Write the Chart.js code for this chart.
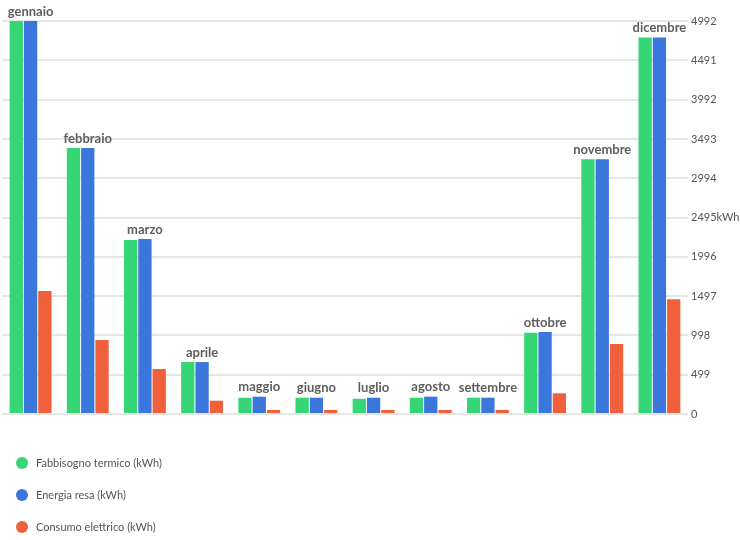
<!DOCTYPE html>
<html>
<head>
<meta charset="utf-8">
<script src="https://cdn.jsdelivr.net/npm/chart.js@4.4.1/dist/chart.umd.min.js"></script>
<style>
  html, body { margin: 0; padding: 0; background: #fff; }
  #wrap { width: 740px; height: 540px; position: relative; }
</style>
</head>
<body>
<div id="wrap"><canvas id="chart"></canvas></div>
<script>
// Months and monthly values (kWh)
const months = ['gennaio', 'febbraio', 'marzo', 'aprile', 'maggio', 'giugno', 'luglio', 'agosto', 'settembre', 'ottobre', 'novembre', 'dicembre'];
const fabbisogno = [4992, 3379, 2210, 660, 207, 207, 194, 207, 207, 1033, 3235, 4784];
const energiaResa = [4992, 3379, 2223, 660, 220, 207, 207, 220, 207, 1041, 3235, 4784];
const consumo = [1562, 940, 572, 169, 51, 51, 51, 51, 51, 263, 889, 1457];
const seriesNames = ['Fabbisogno termico (kWh)', 'Energia resa (kWh)', 'Consumo elettrico (kWh)'];
const yTicks = [0, 499, 998, 1497, 1996, 2495, 2994, 3493, 3992, 4491, 4992];

const colors = ['#36d677', '#3a76dc', '#f0603a'];

// month names above each group of bars
const groupLabels = {
  id: 'groupLabels',
  afterDatasetsDraw(chart) {
    const ctx = chart.ctx;
    const x = chart.scales.x, y = chart.scales.y;
    ctx.save();
    ctx.font = 'bold 13px Lato';
    ctx.fillStyle = '#5e5e5e';
    ctx.textAlign = 'center';
    ctx.textBaseline = 'bottom';
    chart.data.labels.forEach((lab, i) => {
      const top = Math.max(...chart.data.datasets.map(d => d.data[i]));
      ctx.fillText(lab, x.getPixelForValue(i), y.getPixelForValue(top) - 3);
    });
    ctx.restore();
  }
};

// vertical legend at the bottom left
const bottomLegend = {
  id: 'bottomLegend',
  afterDraw(chart) {
    const ctx = chart.ctx;
    ctx.save();
    ctx.font = '11px Lato';
    ctx.textBaseline = 'middle';
    chart.data.datasets.forEach((ds, i) => {
      const cy = 463 + i * 32;
      ctx.fillStyle = ds.backgroundColor;
      ctx.beginPath();
      ctx.arc(22, cy, 6, 0, Math.PI * 2);
      ctx.fill();
      ctx.fillStyle = '#555';
      ctx.fillText(ds.label, 36, cy);
    });
    ctx.restore();
  }
};

let ctx = document.getElementById('chart').getContext('2d');
let chart = new Chart(ctx, {
  type: 'bar',
  data: {
    labels: months,
    datasets: [
      { label: seriesNames[0], data: fabbisogno, backgroundColor: colors[0] },
      { label: seriesNames[1], data: energiaResa, backgroundColor: colors[1] },
      { label: seriesNames[2], data: consumo, backgroundColor: colors[2] }
    ]
  },
  options: {
    responsive: true,
    maintainAspectRatio: false,
    animation: false,
    datasets: {
      bar: { categoryPercentage: 0.75, barPercentage: 0.93 }
    },
    layout: { padding: { top: 21, left: 2, bottom: 126, right: 0 } },
    plugins: {
      legend: { display: false },
      tooltip: { enabled: false }
    },
    scales: {
      x: { display: false },
      y: {
        position: 'right',
        min: 0,
        max: 4992,
        afterBuildTicks: scale => { scale.ticks = yTicks.map(v => ({ value: v })); },
        afterFit: scale => { scale.width = 52; },
        border: { display: false },
        grid: { color: '#e6e6e6', lineWidth: 2, drawTicks: false },
        ticks: {
          padding: 3,
          color: '#555',
          font: { family: 'Lato', size: 11 },
          callback: v => v === 2495 ? v + 'kWh' : String(v)
        }
      }
    }
  },
  plugins: [groupLabels, bottomLegend]
});
</script>
</body>
</html>
